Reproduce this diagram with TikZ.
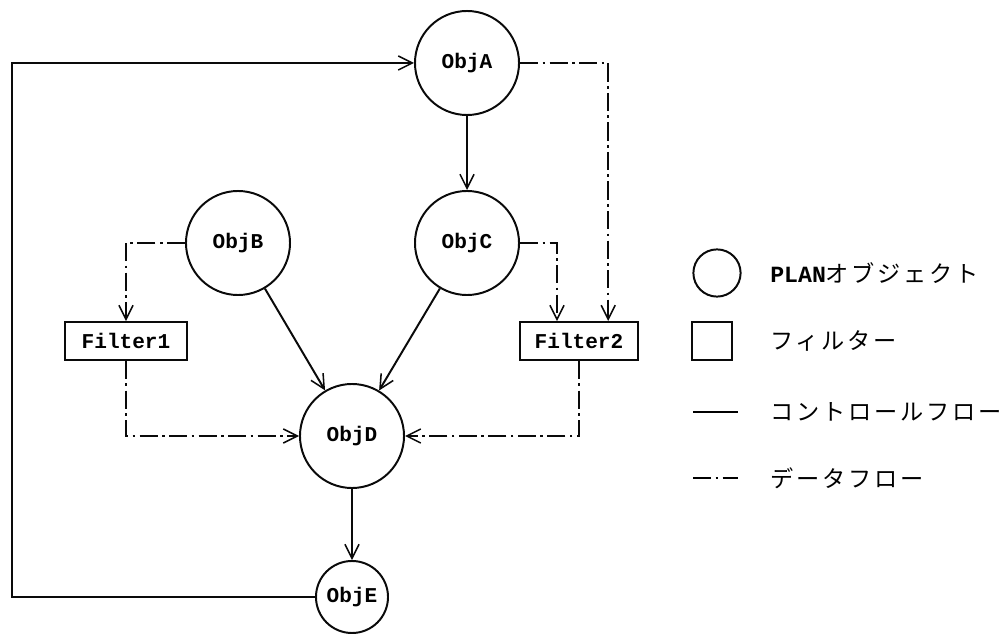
\documentclass[tikz,border=0pt]{standalone}
\usepackage{fontspec}
\usepackage{tikz}
\usetikzlibrary{arrows.meta, positioning}
\setmainfont{Noto Sans CJK JP}
\newfontfamily\labelfont{Liberation Mono}
\definecolor{inkblack}{RGB}{10, 10, 10}

\begin{document}
\begin{tikzpicture}[
    x=0.025cm, y=-0.025cm,
    every node/.style={font=\labelfont\bfseries\fontsize{15}{18}\selectfont},
    objnode/.style={
        circle,
        draw=inkblack,
        line width=1.4pt,
        minimum size=2.6cm,
        inner sep=0pt,
        text centered
    },
    filterbox/.style={
        rectangle,
        draw=inkblack,
        line width=1.4pt,
        minimum height=0.95cm,
        inner sep=2pt,
        text centered
    },
    legendtext/.style={
        anchor=west,
        inner sep=0pt,
        font=\fontsize{16.5}{20}\selectfont\addfontfeatures{LetterSpace=12}
    },
    ctrl/.style={
        line width=1.4pt,
        draw=inkblack,
        -{Straight Barb[length=10pt, width=10pt, line width=1.1pt]}
    },
    data/.style={
        ctrl,
        dash pattern=on 13pt off 3pt on 2pt off 3pt
    }
]
\useasboundingbox (0,0) rectangle (1008,636);

% ==================== OBJECTS ====================
\node (objA) [objnode] at (467, 63) {ObjA};
\node (objB) [objnode] at (238, 243) {ObjB};
\node (objC) [objnode] at (467, 243) {ObjC};
\node (objD) [objnode] at (352, 436) {ObjD};
\node (objE) [objnode, minimum size=1.8cm] at (352, 597) {ObjE};

% ==================== FILTERS ====================
\node (filter1) [filterbox, minimum width=3.05cm] at (126, 341) {Filter1};
\node (filter2) [filterbox, minimum width=2.95cm] at (579, 341) {Filter2};

% return path corner
\coordinate (back) at (12, 63);

% ==================== CONTROL FLOW ====================
\draw [ctrl] (objA) -- (objC);
\draw [ctrl] (objB) -- (objD);
\draw [ctrl] (objC) -- (objD);
\draw [ctrl] (objD) -- (objE);
\draw [ctrl] (objE.west) -| (back) |- (objA.west);

% ==================== DATA FLOW ====================
\draw [data] (objA.east) -| ([xshift=0.73cm]filter2.north);
\draw [data] (objC.east) -| ([xshift=-0.55cm]filter2.north);
\draw [data] (objB.west) -| (filter1.north);
\draw [data] (filter1.south) |- (objD.west);
\draw [data] (filter2.south) |- (objD.east);

% ==================== LEGEND ====================
\node (legobj) [objnode, minimum size=1.18cm] at (717, 273) {};
\node (legfilter) [filterbox, minimum width=1.0cm, minimum height=0.95cm] at (712, 341) {};
\coordinate (ctrlA) at (693, 412);
\coordinate (ctrlB) at (738, 412);
\coordinate (dataA) at (693, 478);
\coordinate (dataB) at (738, 478);
\draw [line width=1.4pt] (ctrlA) -- (ctrlB);
\draw [line width=1.4pt, dash pattern=on 13pt off 3pt on 2pt off 3pt] (dataA) -- (dataB);

\node (legobjtext) [legendtext] at (770, 273) {{\labelfont\bfseries PLAN}オブジェクト};
\node (legfiltertext) [legendtext] at (770, 341) {フィルター};
\node (legctrltext) [legendtext] at (770, 412) {コントロールフロー};
\node (legdatatext) [legendtext] at (770, 478) {データフロー};

\end{tikzpicture}
\end{document}
